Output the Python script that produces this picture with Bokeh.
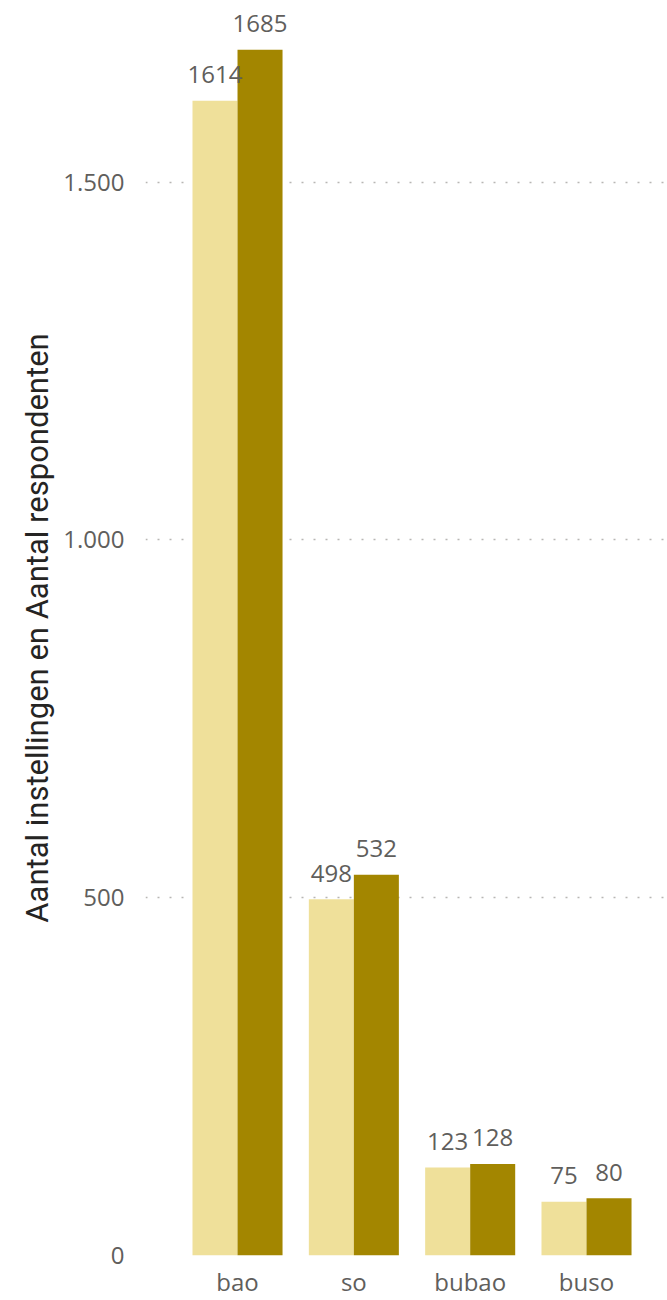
from bokeh.plotting import figure
from bokeh.models import FixedTicker, ColumnDataSource
from bokeh.core.properties import value
from bokeh.embed import file_html
from bokeh.resources import INLINE

categories = ["bao", "so", "bubao", "buso"]
instellingen = [1614, 498, 123, 75]
respondenten = [1685, 532, 128, 80]
y_ticks = [0, 500, 1000, 1500]
y_tick_labels = ["0", "500", "1.000", "1.500"]

light = "#EFE09A"
dark = "#A38600"
grey = "#605E5C"
font = "Open Sans"

idx = list(range(len(categories)))
bw = 0.387

p = figure(width=667, height=1300, output_backend="svg", toolbar_location=None,
           x_range=(-0.791, 3.679), y_range=(0, 1754),
           min_border_left=145, min_border_right=2, min_border_top=0, min_border_bottom=45)
p.outline_line_color = None
p.background_fill_color = "white"

src = ColumnDataSource(dict(
    x=idx, a=instellingen, b=respondenten,
    la=[str(v) for v in instellingen], lb=[str(v) for v in respondenten],
    xa=[i - bw / 2 for i in idx], xb=[i + bw / 2 for i in idx]))

p.vbar(x="xa", top="a", width=bw, bottom=0, source=src, fill_color=light, line_color=None)
p.vbar(x="xb", top="b", width=bw, bottom=0, source=src, fill_color=dark, line_color=None)

for xc, col, yc in (("xa", "la", "a"), ("xb", "lb", "b")):
    p.text(x=xc, y=yc, text=col, source=src, text_align="center", text_baseline="alphabetic",
           y_offset=-26, text_font=value(font), text_font_size="24px", text_color=grey)

p.xgrid.grid_line_color = None
p.ygrid.grid_line_color = "#B8B6B4"
p.ygrid.grid_line_dash = "2 10"
p.ygrid.grid_line_width = 1.5
p.ygrid.ticker = FixedTicker(ticks=y_ticks)

ya = p.yaxis[0]
ya.ticker = FixedTicker(ticks=y_ticks)
ya.major_label_overrides = {t: l for t, l in zip(y_ticks, y_tick_labels)}
ya.axis_line_color = None
ya.major_tick_line_color = None
ya.minor_tick_line_color = None
ya.major_label_standoff = 15
ya.major_label_text_font = font
ya.major_label_text_font_size = "24px"
ya.major_label_text_color = grey
ya.axis_label = "Aantal instellingen en Aantal respondenten"
ya.axis_label_text_font = "Roboto"
ya.axis_label_text_font_style = "normal"
ya.axis_label_text_font_size = "31px"
ya.axis_label_text_color = "#252423"
ya.axis_label_standoff = 4

xa = p.xaxis[0]
xa.ticker = FixedTicker(ticks=idx)
xa.major_label_overrides = {i: c for i, c in zip(idx, categories)}
xa.axis_line_color = None
xa.major_tick_line_color = None
xa.minor_tick_line_color = None
xa.major_label_standoff = 3
xa.major_label_text_font = font
xa.major_label_text_font_size = "24px"
xa.major_label_text_color = grey

open("out.html", "w").write(file_html(p, INLINE))
